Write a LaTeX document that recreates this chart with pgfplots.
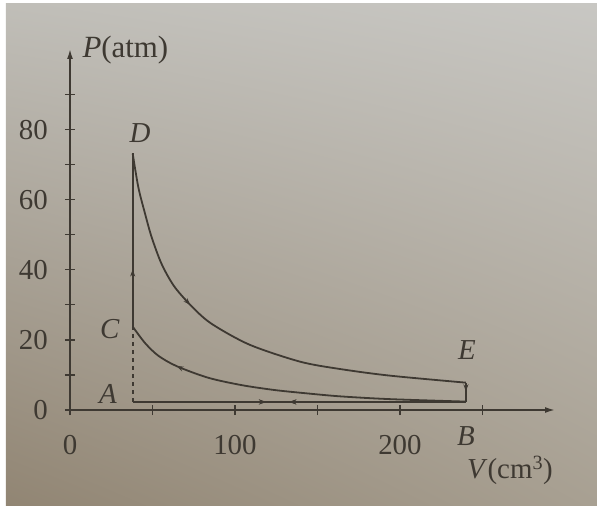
\documentclass[border=0pt]{standalone}
\usepackage{fontspec}
\setmainfont{Liberation Serif}
\usepackage{pgfplots}
\pgfplotsset{compat=1.18}
\usetikzlibrary{decorations.markings,arrows.meta,shadings}
\definecolor{ink}{RGB}{62,57,50}
\definecolor{cUL}{RGB}{192,190,184}
\definecolor{cUR}{RGB}{200,199,195}
\definecolor{cLL}{RGB}{145,133,115}
\definecolor{cLR}{RGB}{168,160,146}
\tikzset{
  arr/.style={postaction={decorate},decoration={markings,mark=at position #1 with {\arrow{Stealth[length=7bp,width=5bp]}}}},
  rarr/.style={postaction={decorate},decoration={markings,mark=at position #1 with {\arrowreversed{Stealth[length=7bp,width=5bp]}}}},
}
\begin{document}
\begin{tikzpicture}
\fill[white] (-70bp,-96bp) rectangle (527bp,410bp);
\shade[upper left=cUL,upper right=cUR,lower left=cLL,lower right=cLR] (-64bp,-96bp) rectangle (527bp,406bp);
\begin{axis}[
  at={(0bp,0bp)}, anchor=south west,
  scale only axis, width=485bp, height=361bp,
  xmin=0, xmax=294, ymin=0, ymax=103,
  axis lines=left,
  axis line style={ink, line width=1.6bp, -{Latex[length=10bp,width=6bp]}},
  xtick={0,100,200}, ytick={0,20,40,60,80},
  minor xtick={50,150,250}, minor ytick={10,30,50,70,90},
  tick align=center, major tick length=10bp, minor tick length=10bp,
  every tick/.style={ink, line width=1.2bp},
  /pgf/number format/assume math mode=true,
  tick label style={font=\fontsize{29}{31}\selectfont, text=ink, inner sep=0pt},
  xticklabel style={anchor=center, yshift=-30bp},
  yticklabel style={anchor=east, xshift=-17bp},
  clip=false,
]
% base line A -> B and back
\addplot[ink, line width=1.8bp, arr=0.40, rarr=0.47] coordinates {(38,2.3) (240,2.3)};
% dashed A-C
\addplot[ink, line width=1.8bp, dash pattern=on 4bp off 4bp] coordinates {(38,2.3) (38,23.8)};
% C -> D
\addplot[ink, line width=1.8bp, arr=0.33] coordinates {(38,23.8) (38,73.2)};
% D -> E adiabat
\addplot[ink, line width=1.8bp, smooth, arr=0.36] coordinates {
  (38,73.2) (41.4,63.6) (45.5,56.0) (49.5,49.3) (55.6,41.6) (63.6,35.0)
  (75.8,28.6) (86.8,24.3) (109,18.6) (139.4,13.8) (163.6,11.7) (194,9.8) (240,7.8)};
% E -> B
\addplot[ink, line width=1.8bp, arr=0.45] coordinates {(240,7.8) (240,2.3)};
% B -> C adiabat (listed from C)
\addplot[ink, line width=1.8bp, smooth, rarr=0.17] coordinates {
  (38,23.8) (45.5,19.1) (53.5,15.5) (64.7,12.5) (83.8,9.2) (104,7.1)
  (124,5.7) (142.4,4.8) (163.6,3.9) (194,3.1) (240,2.4)};
% labels
\begin{scope}[every node/.style={text=ink, font=\fontsize{29}{31}\selectfont}]
\node[anchor=west, font=\fontsize{31}{33}\selectfont] at (axis cs:0,102.6) [xshift=9bp] {\textit{P}(atm)};
\node at (axis cs:266.7,-17.1) {\textit{V}(cm\textsuperscript{3})};
\node at (axis cs:42.4,78.9) {\textit{D}};
\node at (axis cs:24.2,23.2) {\textit{C}};
\node at (axis cs:23,4.7) {\textit{A}};
\node at (axis cs:240.6,17) {\textit{E}};
\node at (axis cs:240,-7.5) {\textit{B}};
\end{scope}
\end{axis}
\end{tikzpicture}
\end{document}
